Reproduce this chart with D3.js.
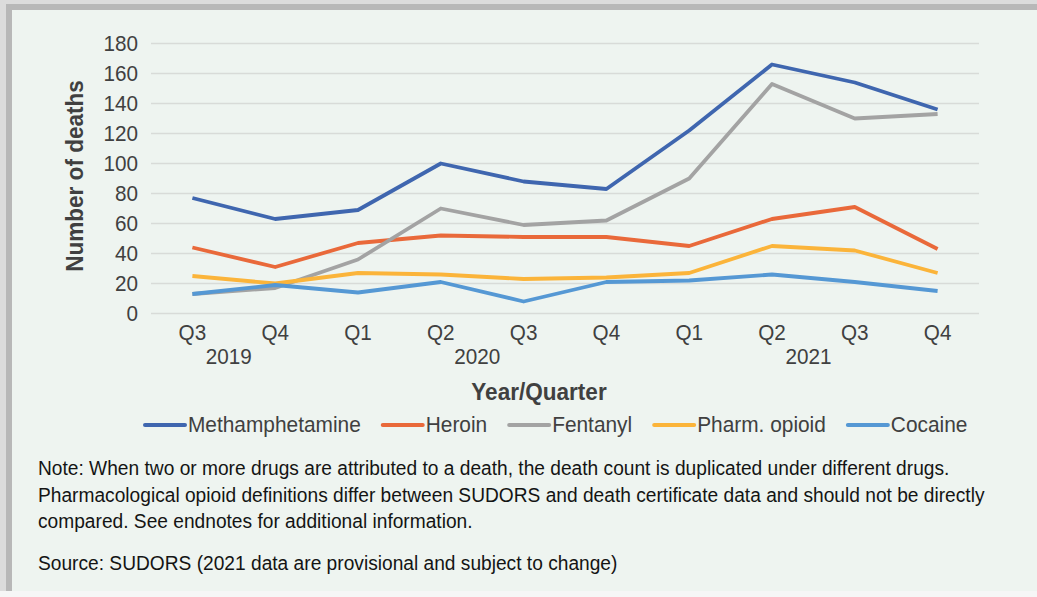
<!DOCTYPE html>
<html>
<head>
<meta charset="utf-8">
<script src="https://cdn.jsdelivr.net/npm/d3@7"></script>
<style>
  body { margin: 0; background: #f6f6f6; }
  text { font-family: "Liberation Sans", Arial, sans-serif; }
</style>
</head>
<body>
<div id="chart"></div>
<script>
// quarter labels along the x axis, and the year groups under them
const quarters = ["Q3", "Q4", "Q1", "Q2", "Q3", "Q4", "Q1", "Q2", "Q3", "Q4"];
const years = ["2019", "2020", "2021"];
const yearStart = [0, 2, 6];
const yearEnd = [1, 5, 9];
const yTicks = [0, 20, 40, 60, 80, 100, 120, 140, 160, 180];

const seriesNames = ["Methamphetamine", "Heroin", "Fentanyl", "Pharm. opioid", "Cocaine"];
const meth = [77, 63, 69, 100, 88, 83, 122, 166, 154, 136];
const heroin = [44, 31, 47, 52, 51, 51, 45, 63, 71, 43];
const fentanyl = [13, 17, 36, 70, 59, 62, 90, 153, 130, 133];
const pharm = [25, 20, 27, 26, 23, 24, 27, 45, 42, 27];
const cocaine = [13, 19, 14, 21, 8, 21, 22, 26, 21, 15];

const noteLines = [
  "Note: When two or more drugs are attributed to a death, the death count is duplicated under different drugs.",
  "Pharmacological opioid definitions differ between SUDORS and death certificate data and should not be directly",
  "compared. See endnotes for additional information."
];
const sourceLine = "Source: SUDORS (2021 data are provisional and subject to change)";

const series = [meth, heroin, fentanyl, pharm, cocaine];
const colors = ["#3f66af", "#e9693a", "#a3a3a3", "#fbb43a", "#5598d4"];

const W = 1037, H = 597;
const squeeze = 0.94;

const svg = d3.select("#chart").append("svg")
  .attr("width", W)
  .attr("height", H);

// frame with the grey shadow on top and left
svg.append("rect").attr("x", 0).attr("y", 0).attr("width", W).attr("height", 591).attr("fill", "#dcdcdc");
svg.append("rect").attr("x", 6).attr("y", 4).attr("width", W - 6).attr("height", 587).attr("fill", "#b8b8b8");
svg.append("rect").attr("x", 12).attr("y", 10).attr("width", W - 12).attr("height", 581).attr("fill", "#eef4f0");

const x = d3.scaleBand().domain(d3.range(quarters.length)).range([151, 979]);
const y = d3.scaleLinear().domain([0, 180]).range([313.5, 43.5]);
const cx = i => x(i) + x.bandwidth() / 2;

function squeezed(sel, px, py) {
  sel.attr("transform", `translate(${px},${py}) scale(${squeeze},1)`);
  return sel;
}

// gridlines
svg.append("g")
  .selectAll("line")
  .data(yTicks)
  .join("line")
  .attr("x1", 151)
  .attr("x2", 979)
  .attr("y1", d => y(d))
  .attr("y2", d => y(d))
  .attr("stroke", "#d8dbd8")
  .attr("stroke-width", 1.5);

// y tick labels
svg.append("g")
  .selectAll("text")
  .data(yTicks)
  .join("text")
  .attr("text-anchor", "end")
  .attr("dominant-baseline", "central")
  .attr("font-size", 22)
  .attr("fill", "#404040")
  .text(d => d)
  .each(function(d) { squeezed(d3.select(this), 138, y(d)); });

// x tick labels
svg.append("g")
  .selectAll("text")
  .data(quarters)
  .join("text")
  .attr("text-anchor", "middle")
  .attr("dominant-baseline", "central")
  .attr("font-size", 22)
  .attr("fill", "#404040")
  .text(d => d)
  .each(function(d, i) { squeezed(d3.select(this), cx(i), 333); });

// year labels under the quarter groups
svg.append("g")
  .selectAll("text")
  .data(years)
  .join("text")
  .attr("text-anchor", "middle")
  .attr("dominant-baseline", "central")
  .attr("font-size", 22)
  .attr("fill", "#404040")
  .text(d => d)
  .each(function(d, i) { squeezed(d3.select(this), (cx(yearStart[i]) + cx(yearEnd[i])) / 2 - 5, 357); });

// axis titles
squeezed(svg.append("text"), 539, 392)
  .attr("text-anchor", "middle")
  .attr("dominant-baseline", "central")
  .attr("font-size", 24)
  .attr("font-weight", "bold")
  .attr("fill", "#404040")
  .text("Year/Quarter");

svg.append("text")
  .attr("transform", `translate(75,176) rotate(-90) scale(${squeeze},1)`)
  .attr("text-anchor", "middle")
  .attr("dominant-baseline", "central")
  .attr("font-size", 24)
  .attr("font-weight", "bold")
  .attr("fill", "#404040")
  .text("Number of deaths");

// lines
const line = d3.line()
  .x((d, i) => cx(i))
  .y(d => y(d));

svg.append("g")
  .selectAll("path")
  .data(series)
  .join("path")
  .attr("d", d => line(d))
  .attr("fill", "none")
  .attr("stroke", (d, i) => colors[i])
  .attr("stroke-width", 3.8)
  .attr("stroke-linejoin", "round");

// legend, laid out left to right
let lx = 145;
const legend = svg.append("g");
seriesNames.forEach((name, i) => {
  legend.append("line")
    .attr("x1", lx).attr("x2", lx + 40)
    .attr("y1", 425).attr("y2", 425)
    .attr("stroke", colors[i])
    .attr("stroke-width", 4)
    .attr("stroke-linecap", "round");
  const t = squeezed(legend.append("text"), lx + 43, 425)
    .attr("dominant-baseline", "central")
    .attr("font-size", 22.2)
    .attr("fill", "#404040")
    .text(name);
  lx += 43 + t.node().getComputedTextLength() * squeeze + 22;
});

// note and source
svg.append("g")
  .selectAll("text")
  .data(noteLines)
  .join("text")
  .attr("dominant-baseline", "central")
  .attr("font-size", 20.4)
  .attr("fill", "#141414")
  .text(d => d)
  .each(function(d, i) { squeezed(d3.select(this), 38, 468 + i * 26.5); });

squeezed(svg.append("text"), 38, 563)
  .attr("dominant-baseline", "central")
  .attr("font-size", 20.4)
  .attr("fill", "#141414")
  .text(sourceLine);
</script>
</body>
</html>
